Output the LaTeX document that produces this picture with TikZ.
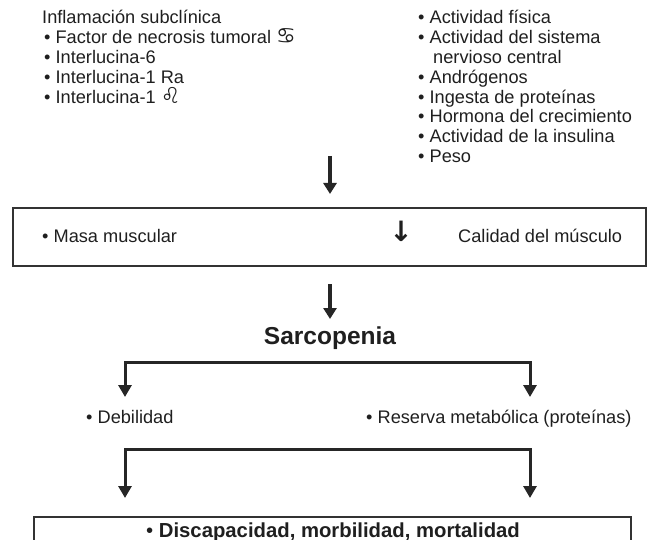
\documentclass[tikz,border=0pt]{standalone}
\usepackage{fontspec}
\setmainfont{Liberation Sans}
\newfontfamily\symfont{DejaVu Sans}
\usetikzlibrary{arrows.meta}
\begin{document}
\begin{tikzpicture}[x=1pt,y=-1pt,
  txt/.style={anchor=base west,inner sep=0pt,font=\fontsize{18.2}{21}\selectfont,text=black!88},
  zod/.style={font=\symfont\fontsize{22}{22}\selectfont},
  bigarrow/.style={line width=3.8pt,draw=black!85,-{Triangle[width=13pt,length=11pt]}},
  branch/.style={line width=3pt,draw=black!85,line join=miter,-{Triangle[width=13pt,length=12pt]}},
  boxline/.style={draw=black!80,line width=1.8pt,inner sep=0pt}]
\useasboundingbox (0,0) rectangle (648,540);
\clip (0,0) rectangle (648,540);
% left list
\node[txt] (inf) at (42,24) {Inflamación subclínica};
\node[txt] (l1) at (44,43.8) {• Factor de necrosis tumoral {\symfont\fontsize{22}{22}\selectfont ♋}};
\node[txt] (l2) at (44,63.6) {• Interlucina-6};
\node[txt] (l3) at (44,83.4) {• Interlucina-1 Ra};
\node[txt] (l4) at (44,103.2) {• Interlucina-1 {\symfont\fontsize{22}{22}\selectfont ♌}};
% right list
\node[txt] (r1) at (418,24) {• Actividad física};
\node[txt] (r2) at (418,43.8) {• Actividad del sistema};
\node[txt] (r2b) at (433,63.6) {nervioso central};
\node[txt] (r3) at (418,83.4) {• Andrógenos};
\node[txt] (r4) at (418,103.2) {• Ingesta de proteínas};
\node[txt] (r5) at (418,123) {• Hormona del crecimiento};
\node[txt] (r6) at (418,142.8) {• Actividad de la insulina};
\node[txt] (r7) at (418,162.6) {• Peso};
% arrow 1
\coordinate (a1s) at (330,156);
\coordinate (a1e) at (330,194);
\draw[bigarrow] (a1s) -- (a1e);
% box 1
\node[boxline,anchor=north west,minimum width=633pt,minimum height=58pt] (box1) at (12,207) {};
\node[txt] (masa) at (42,243) {• Masa muscular};
\node[anchor=base,inner sep=0pt,font=\symfont\bfseries\fontsize{28}{30}\selectfont,text=black!88] (dn) at (401,242) {↓};
\node[txt] (cal) at (458,243) {Calidad del músculo};
% arrow 2
\coordinate (a2s) at (330,284);
\coordinate (a2e) at (330,319);
\draw[bigarrow] (a2s) -- (a2e);
% Sarcopenia
\node[anchor=base,inner sep=0pt,font=\fontsize{24.5}{28}\selectfont\bfseries,text=black!88] (sar) at (330,344) {Sarcopenia};
% branch 1
\coordinate (b1c) at (330,362);
\coordinate (b1l) at (125,397);
\coordinate (b1r) at (530,397);
\draw[branch] (b1c) -| (b1l);
\draw[branch] (b1c) -| (b1r);
\node[txt] (deb) at (86,423) {• Debilidad};
\node[txt] (res) at (366,423) {• Reserva metabólica (proteínas)};
% branch 2
\coordinate (b2c) at (330,449);
\coordinate (b2l) at (125,498);
\coordinate (b2r) at (530,498);
\draw[branch] (b2c) -| (b2l);
\draw[branch] (b2c) -| (b2r);
% bottom box
\node[boxline,anchor=north west,minimum width=597pt,minimum height=45pt] (box2) at (33,516) {};
\node[anchor=base,inner sep=0pt,font=\fontsize{20.3}{24}\selectfont,text=black!88] (dis) at (333,537) {• \textbf{Discapacidad, morbilidad, mortalidad}};
\end{tikzpicture}
\end{document}
